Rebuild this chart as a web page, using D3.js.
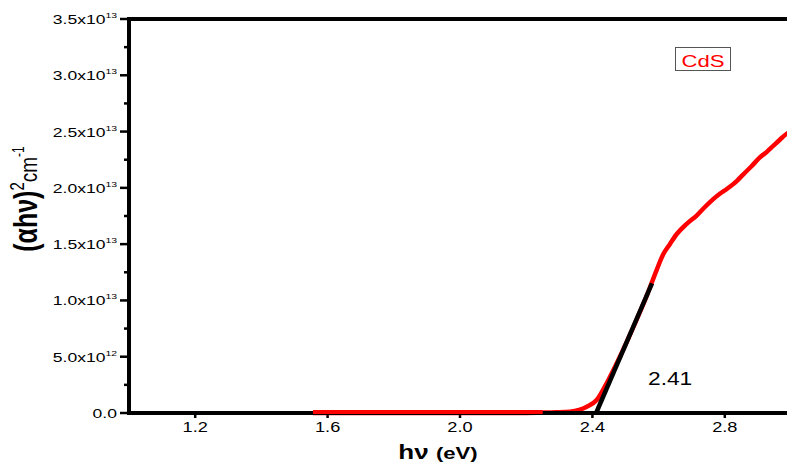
<!DOCTYPE html>
<html>
<head>
<meta charset="utf-8">
<script src="https://cdn.jsdelivr.net/npm/d3@7"></script>
<style>
  body { margin: 0; background: #fff; }
  svg { display: block; font-family: "Liberation Sans", Arial, sans-serif; }
</style>
</head>
<body>
<svg id="chart" width="787" height="464"></svg>
<script>
// measured CdS Tauc plot: photon energy (eV) vs (αhν)^2
const energy = [1.556, 1.8, 2.0, 2.121, 2.2, 2.242, 2.29, 2.332, 2.36, 2.383, 2.413, 2.443, 2.483, 2.524, 2.564, 2.594, 2.614, 2.634, 2.655, 2.685, 2.715, 2.74, 2.765, 2.786, 2.806, 2.836, 2.856, 2.88, 2.906, 2.927, 2.947, 2.967, 2.987, 3.0];
const absorb = [0, 0, 0, 0, 0.01e12, 0.03e12, 0.06e12, 0.12e12, 0.28e12, 0.56e12, 1.15e12, 2.63e12, 4.99e12, 7.65e12, 1.04e13, 1.27e13, 1.41e13, 1.50e13, 1.59e13, 1.68e13, 1.754e13, 1.83e13, 1.90e13, 1.95e13, 1.99e13, 2.06e13, 2.12e13, 2.19e13, 2.27e13, 2.32e13, 2.375e13, 2.43e13, 2.48e13, 2.50e13];

// linear fit line (extrapolated band gap)
const fitX = [2.41, 2.58];
const fitY = [0, 1.152e13];
const bandGap = "2.41";

const xTicks = [1.2, 1.6, 2.0, 2.4, 2.8];
const yTicks = [0, 5e12, 1e13, 1.5e13, 2e13, 2.5e13, 3e13, 3.5e13];
const yTickLabels = [["0.0", ""], ["5.0x10", "12"], ["1.0x10", "13"], ["1.5x10", "13"], ["2.0x10", "13"], ["2.5x10", "13"], ["3.0x10", "13"], ["3.5x10", "13"]];
const seriesName = "CdS";

const svg = d3.select("#chart");
const plotLeft = 129, plotTop = 19, plotBottom = 413;
const stretch = 1.3; // the original figure is wider than its text

const x = d3.scaleLinear().domain([1.0, 3.0]).range([plotLeft, plotLeft + 662]);
const y = d3.scaleLinear().domain([0, 3.5e13]).range([plotBottom, plotTop]);

// text placed at (tx, ty) and widened horizontally
function wideText(g, tx, ty) {
  return g.append("text").attr("transform", `translate(${tx},${ty}) scale(${stretch},1)`);
}

// frame: top border
svg.append("line")
  .attr("x1", plotLeft).attr("x2", 787).attr("y1", plotTop).attr("y2", plotTop)
  .attr("stroke", "#000").attr("stroke-width", 4);

// y minor ticks
const yMinor = d3.range(0, 7).map(i => 2.5e12 + i * 5e12);
svg.append("g").selectAll("line").data(yMinor).join("line")
  .attr("x1", plotLeft - 5).attr("x2", plotLeft).attr("y1", d => y(d)).attr("y2", d => y(d))
  .attr("stroke", "#000").attr("stroke-width", 2.5);

// y major ticks
svg.append("g").selectAll("line").data(yTicks).join("line")
  .attr("x1", plotLeft - 9).attr("x2", plotLeft).attr("y1", d => y(d)).attr("y2", d => y(d))
  .attr("stroke", "#000").attr("stroke-width", 2.5);

const yAxisLabels = svg.append("g");
yTicks.forEach((d, i) => {
  const t = wideText(yAxisLabels, 117, y(d) + 5)
    .attr("text-anchor", "end").attr("font-size", 13.5).attr("fill", "#000");
  t.append("tspan").text(yTickLabels[i][0]);
  if (yTickLabels[i][1]) {
    t.append("tspan").attr("font-size", 8).attr("dy", -6).text(yTickLabels[i][1]);
  }
});

// x ticks
svg.append("g").selectAll("line").data(xTicks).join("line")
  .attr("x1", d => x(d)).attr("x2", d => x(d)).attr("y1", plotBottom).attr("y2", plotBottom + 5)
  .attr("stroke", "#000").attr("stroke-width", 2.5);
const xAxisLabels = svg.append("g");
xTicks.forEach(d => {
  wideText(xAxisLabels, x(d), 432)
    .attr("text-anchor", "middle").attr("font-size", 14).attr("fill", "#000")
    .text(d.toFixed(1));
});

// data curve
const line = d3.line().x((d, i) => x(energy[i])).y((d, i) => y(absorb[i])).curve(d3.curveMonotoneX);
svg.append("path")
  .attr("d", line(energy))
  .attr("fill", "none").attr("stroke", "#ff0000").attr("stroke-width", 4.5)
  .attr("stroke-linejoin", "round");

// axes lines
svg.append("line")
  .attr("x1", plotLeft - 1).attr("x2", 787).attr("y1", plotBottom).attr("y2", plotBottom)
  .attr("stroke", "#000").attr("stroke-width", 4);
svg.append("line")
  .attr("x1", plotLeft).attr("x2", plotLeft).attr("y1", plotTop - 2).attr("y2", plotBottom + 2)
  .attr("stroke", "#000").attr("stroke-width", 4);

// red curve redrawn over the axis on the flat part
svg.append("line")
  .attr("x1", x(energy[0])).attr("x2", x(2.25)).attr("y1", plotBottom - 1).attr("y2", plotBottom - 1)
  .attr("stroke", "#ff0000").attr("stroke-width", 4);

// fit line
svg.append("line")
  .attr("x1", x(fitX[0])).attr("y1", y(fitY[0]) + 1)
  .attr("x2", x(fitX[1])).attr("y2", y(fitY[1]))
  .attr("stroke", "#000").attr("stroke-width", 4.5);

wideText(svg, 648, 385).attr("font-size", 17.5).attr("fill", "#000").text(bandGap);

// legend box
svg.append("rect")
  .attr("x", 675.5).attr("y", 47.5).attr("width", 55).attr("height", 23)
  .attr("fill", "#fff").attr("stroke", "#555").attr("stroke-width", 1);
wideText(svg, 703, 66.5).attr("text-anchor", "middle")
  .attr("font-size", 17).attr("fill", "#ff0000").text(seriesName);

// x axis title
const xt = wideText(svg, 438, 459).attr("text-anchor", "middle")
  .attr("font-weight", "bold").attr("fill", "#000");
xt.append("tspan").attr("font-size", 20).text("hν ");
xt.append("tspan").attr("font-size", 17).text("(eV)");

// y axis title (rotated, stretched across the page)
const ytl = svg.append("text")
  .attr("transform", `translate(37,199) scale(${stretch},1) rotate(-90)`)
  .attr("text-anchor", "middle").attr("fill", "#000");
ytl.append("tspan").attr("font-size", 25).attr("font-weight", "bold").text("(αhν)");
ytl.append("tspan").attr("font-size", 15).attr("dy", -10).text("2");
ytl.append("tspan").attr("font-size", 19).attr("dy", 10).text("cm");
ytl.append("tspan").attr("font-size", 12).attr("dy", -10).text("-1");
</script>
</body>
</html>
